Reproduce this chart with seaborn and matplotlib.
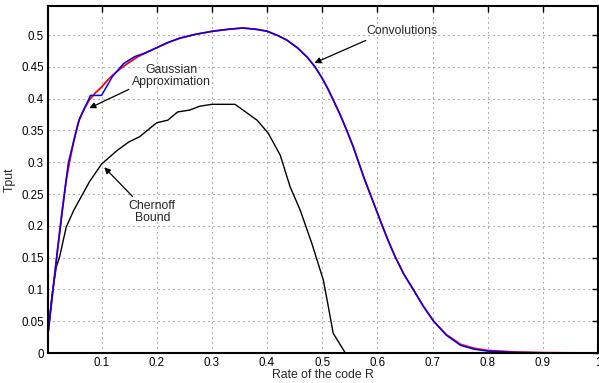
import matplotlib
matplotlib.use("Agg")
import matplotlib.pyplot as plt
import seaborn as sns
import pandas as pd

# Convolutions (red)
conv_x = [0.003, 0.012, 0.02, 0.028, 0.036, 0.042, 0.05, 0.058, 0.068, 0.078, 0.09, 0.1, 0.11, 0.118,
          0.13, 0.14, 0.152, 0.164, 0.18, 0.2, 0.22, 0.242, 0.27, 0.302, 0.33, 0.356, 0.38, 0.4,
          0.42, 0.436, 0.455, 0.473, 0.487, 0.5, 0.51, 0.52, 0.533, 0.545, 0.556, 0.566, 0.576,
          0.587, 0.598, 0.609, 0.62, 0.633, 0.648, 0.665, 0.683, 0.702, 0.725, 0.751, 0.775, 0.8,
          0.85, 0.9, 0.95, 1.0]
conv_y = [0.03, 0.10, 0.16, 0.22, 0.272, 0.30, 0.335, 0.363, 0.383, 0.398, 0.41, 0.418, 0.428, 0.435,
          0.444, 0.451, 0.458, 0.465, 0.472, 0.48, 0.488, 0.495, 0.501, 0.506, 0.509, 0.511, 0.509,
          0.506, 0.499, 0.492, 0.48, 0.465, 0.45, 0.432, 0.416, 0.398, 0.374, 0.349, 0.325, 0.30,
          0.275, 0.25, 0.225, 0.20, 0.176, 0.15, 0.124, 0.10, 0.074, 0.05, 0.029, 0.0135, 0.0075,
          0.004, 0.0015, 0.0006, 0.0002, 0.0001]

# Gaussian approximation (blue)
gauss_x = [0.003, 0.02, 0.04, 0.06, 0.08, 0.10, 0.12, 0.14, 0.16, 0.18, 0.2, 0.22, 0.242, 0.27,
           0.302, 0.33, 0.356, 0.38, 0.4, 0.42, 0.436, 0.455, 0.473, 0.487, 0.5, 0.51, 0.52, 0.533,
           0.545, 0.556, 0.566, 0.576, 0.587, 0.598, 0.609, 0.62, 0.633, 0.648, 0.665, 0.683,
           0.702, 0.725, 0.751, 0.775, 0.8, 0.85, 0.9, 0.95, 1.0]
gauss_y = [0.03, 0.16, 0.30, 0.368, 0.405, 0.405, 0.435, 0.455, 0.466, 0.472, 0.48, 0.488, 0.495,
           0.501, 0.506, 0.509, 0.511, 0.509, 0.506, 0.499, 0.492, 0.48, 0.465, 0.45, 0.432, 0.416,
           0.398, 0.374, 0.349, 0.325, 0.30, 0.275, 0.25, 0.225, 0.20, 0.176, 0.15, 0.124, 0.10,
           0.074, 0.05, 0.028, 0.012, 0.006, 0.003, 0.001, 0.0003, 0.0001, 0.0]

# Chernoff bound (black)
cher_x = [0.003, 0.01, 0.018, 0.024, 0.036, 0.05, 0.078, 0.1, 0.129, 0.15, 0.169, 0.2, 0.22, 0.238,
          0.26, 0.278, 0.3, 0.342, 0.382, 0.402, 0.424, 0.442, 0.46, 0.481, 0.502, 0.509, 0.52,
          0.542, 0.6, 0.7, 0.8, 0.9, 1.0]
cher_y = [0.03, 0.09, 0.135, 0.151, 0.198, 0.225, 0.269, 0.297, 0.319, 0.332, 0.340, 0.362, 0.366,
          0.379, 0.382, 0.388, 0.391, 0.391, 0.366, 0.346, 0.311, 0.261, 0.225, 0.173, 0.115, 0.083,
          0.031, 0.0, 0.0, 0.0, 0.0, 0.0, 0.0]

x_ticks = [0.1, 0.2, 0.3, 0.4, 0.5, 0.6, 0.7, 0.8, 0.9, 1.0]
x_tick_labels = ["0.1", "0.2", "0.3", "0.4", "0.5", "0.6", "0.7", "0.8", "0.9", "1"]
y_ticks = [0, 0.05, 0.1, 0.15, 0.2, 0.25, 0.3, 0.35, 0.4, 0.45, 0.5]
y_tick_labels = ["0", "0.05", "0.1", "0.15", "0.2", "0.25", "0.3", "0.35", "0.4", "0.45", "0.5"]

sns.set_style("white")
plt.rcParams['font.family'] = ['Liberation Sans', 'DejaVu Sans']

fig = plt.figure(figsize=(5.99, 3.83), dpi=100)
ax = fig.add_axes([48/599, 30/383, 550/599, 347/383])

df_c = pd.DataFrame({"x": conv_x, "y": conv_y})
df_g = pd.DataFrame({"x": gauss_x, "y": gauss_y})
df_b = pd.DataFrame({"x": cher_x, "y": cher_y})

sns.lineplot(data=df_b, x="x", y="y", ax=ax, color="black", linewidth=1.0, sort=False, estimator=None)
sns.lineplot(data=df_c, x="x", y="y", ax=ax, color="red", linewidth=1.3, sort=False, estimator=None)
sns.lineplot(data=df_g, x="x", y="y", ax=ax, color="blue", linewidth=1.1, sort=False, estimator=None)

ax.set_xlim(0.003, 1.0)
ax.set_ylim(0, 0.5456)
ax.set_xticks(x_ticks)
ax.set_xticklabels(x_tick_labels)
ax.set_yticks(y_ticks)
ax.set_yticklabels(y_tick_labels)
ax.tick_params(direction="in", length=4, width=1, labelsize=8.3, top=True, right=True,
               colors="black", pad=3)
ax.grid(True, linestyle=(0, (1, 3.5)), color="#777777", linewidth=0.8)
for s in ax.spines.values():
    s.set_visible(True)
    s.set_color("black")
    s.set_linewidth(1.5)

ax.set_xlabel("Rate of the code R", fontsize=8.8, labelpad=0)
ax.set_ylabel("Tput", fontsize=8.8, labelpad=4)

arrowprops = dict(arrowstyle="-|>", color="black", lw=0.9, mutation_scale=9, shrinkA=0, shrinkB=0)
ax.annotate("Convolutions", xy=(0.486, 0.456), xytext=(0.644, 0.506), ha="center", va="center",
            fontsize=8.8, arrowprops=dict(arrowprops, relpos=(0.1, 0.0)))
ax.annotate("Gaussian\nApproximation", xy=(0.078, 0.385), xytext=(0.227, 0.435), ha="center",
            va="center", fontsize=8.8, linespacing=1.0, arrowprops=dict(arrowprops, relpos=(0.05, 0.1)))
ax.annotate("Chernoff\nBound", xy=(0.105, 0.292), xytext=(0.192, 0.222), ha="center", va="center",
            fontsize=8.8, linespacing=1.0, arrowprops=dict(arrowprops, relpos=(0.15, 1.0)))

fig.savefig("out.png", dpi=100)
